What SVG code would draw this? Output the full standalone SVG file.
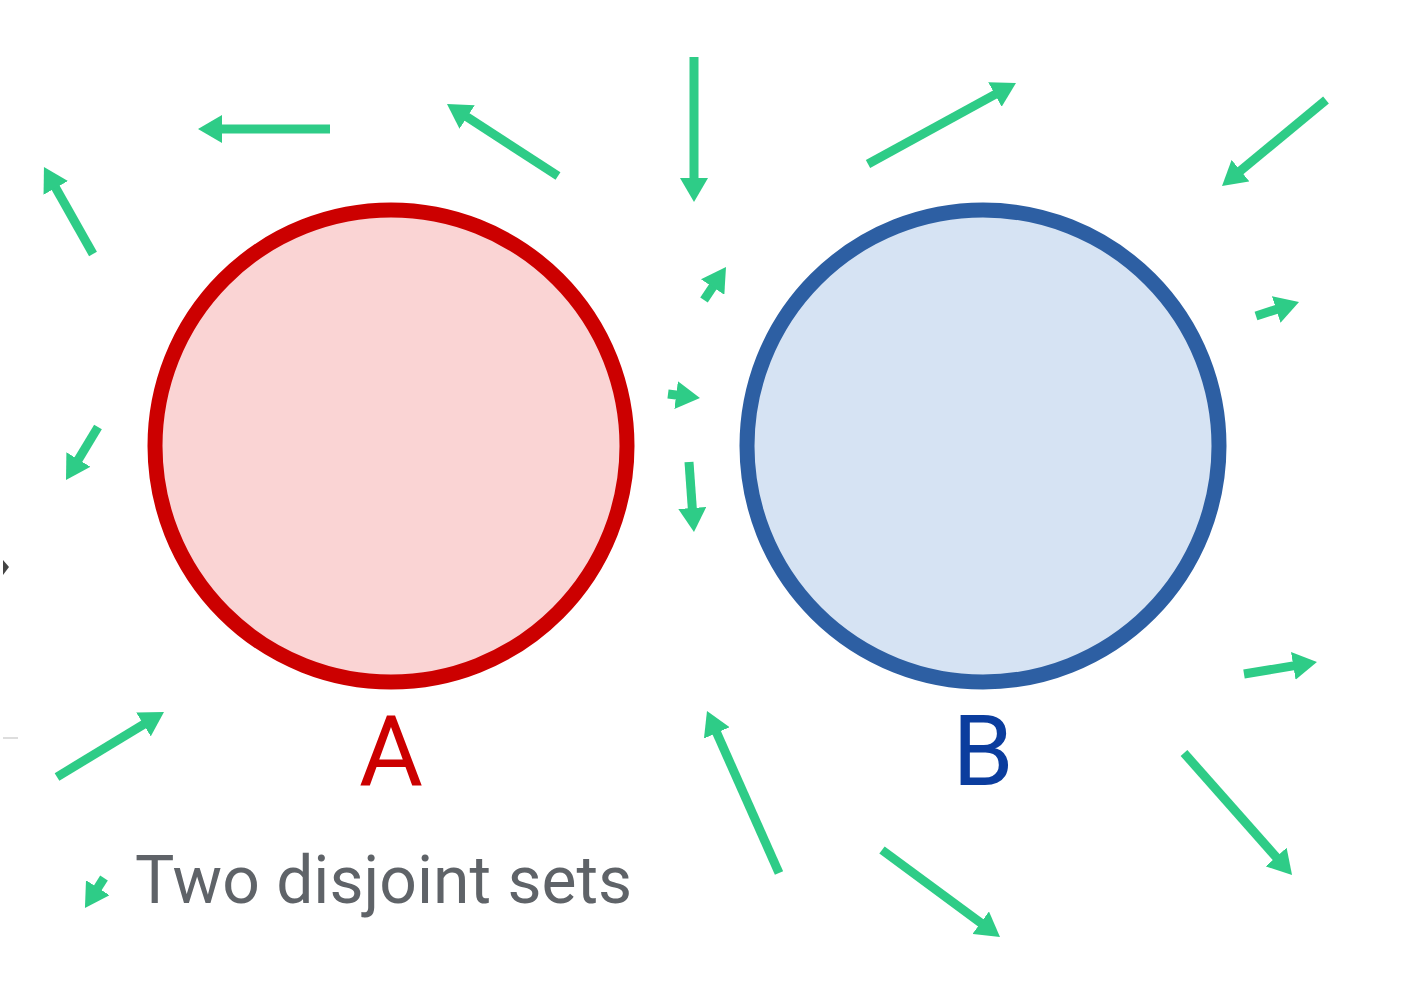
<svg xmlns="http://www.w3.org/2000/svg" width="1411" height="989" viewBox="0 0 1411 989">
<style>
.arr{stroke:#2ecc87;stroke-width:9;fill:none;marker-end:url(#head)}
.lbl{font-family:Roboto,"Liberation Sans",sans-serif}
</style>
<defs>
<marker id="head" viewBox="0 0 24 28" refX="6" refY="14" markerWidth="24" markerHeight="28" markerUnits="userSpaceOnUse" orient="auto">
<path d="M0,0 L24,14 L0,28 z" fill="#2ecc87"/>
</marker>
</defs>
<rect width="1411" height="989" fill="#ffffff"/>
<polygon points="3,560 9,567 3,575" fill="#444"/>
<rect x="3" y="737" width="15" height="2" fill="#ddd"/>
<g id="setA">
<circle cx="391" cy="446" r="236" fill="#fad4d4" stroke="#cc0000" stroke-width="15"/>
<text class="lbl" x="391" y="785" font-size="98" fill="#cc0000" text-anchor="middle">A</text>
</g>
<g id="setB">
<circle cx="983" cy="446" r="236" fill="#d6e3f3" stroke="#2d5fa3" stroke-width="15"/>
<text class="lbl" x="983" y="785" font-size="98" fill="#0b3d9e" text-anchor="middle">B</text>
</g>
<g id="caption">
<text class="lbl" x="135" y="903" font-size="66" fill="#5f6368">Two disjoint sets</text>
</g>
<g id="connectors">
<line class="arr" x1="330" y1="129" x2="216" y2="129"/>
<line class="arr" x1="558" y1="176" x2="462.1" y2="113.8"/>
<line class="arr" x1="93" y1="254" x2="52.8" y2="182.7"/>
<line class="arr" x1="694" y1="57" x2="694" y2="184"/>
<line class="arr" x1="868" y1="164" x2="1000.2" y2="91.6"/>
<line class="arr" x1="1326" y1="100" x2="1235.9" y2="174.5"/>
<line class="arr" x1="704" y1="300" x2="716" y2="282"/>
<line class="arr" x1="1256" y1="316" x2="1281.9" y2="307.6"/>
<line class="arr" x1="668" y1="394" x2="682.1" y2="395.8"/>
<line class="arr" x1="98" y1="427" x2="75.3" y2="464.6"/>
<line class="arr" x1="689" y1="462" x2="692.7" y2="514"/>
<line class="arr" x1="57" y1="777" x2="148.6" y2="721.3"/>
<line class="arr" x1="779" y1="873" x2="714.3" y2="727.4"/>
<line class="arr" x1="1244" y1="674" x2="1299.2" y2="664.9"/>
<line class="arr" x1="1184" y1="753" x2="1280.1" y2="861.5"/>
<line class="arr" x1="882" y1="850" x2="985.5" y2="926.3"/>
<line class="arr" x1="104" y1="878" x2="94.6" y2="892.8"/>
</g>
</svg>
